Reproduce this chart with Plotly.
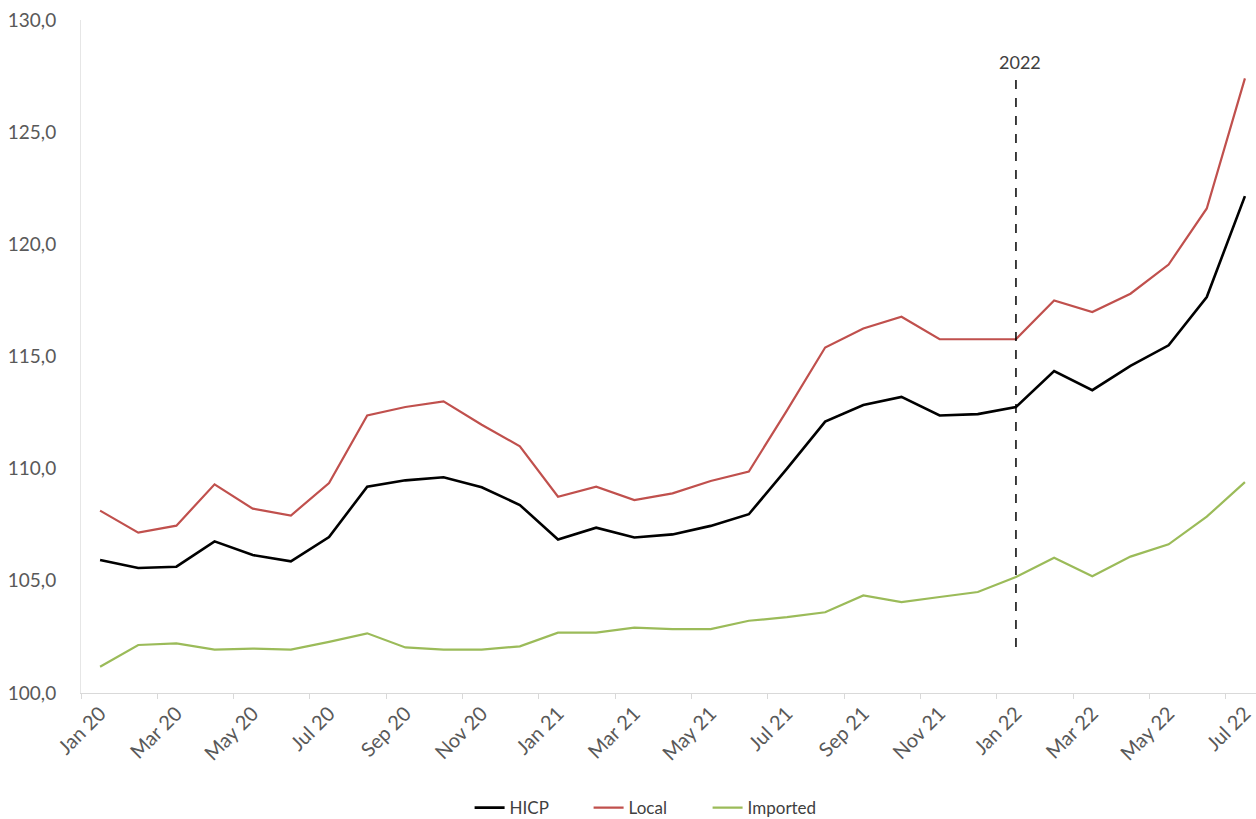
import plotly.graph_objects as go

months = ["Jan 20", "Feb 20", "Mar 20", "Apr 20", "May 20", "Jun 20", "Jul 20", "Aug 20",
          "Sep 20", "Oct 20", "Nov 20", "Dec 20", "Jan 21", "Feb 21", "Mar 21", "Apr 21",
          "May 21", "Jun 21", "Jul 21", "Aug 21", "Sep 21", "Oct 21", "Nov 21", "Dec 21",
          "Jan 22", "Feb 22", "Mar 22", "Apr 22", "May 22", "Jun 22", "Jul 22"]

hicp = [105.93, 105.57, 105.63, 106.76, 106.15, 105.87, 106.95, 109.2,
        109.48, 109.62, 109.17, 108.38, 106.84, 107.37, 106.93, 107.07,
        107.45, 107.97, 110.0, 112.1, 112.84, 113.2, 112.37, 112.43,
        112.75, 114.35, 113.5, 114.58, 115.5, 117.65, 122.15]

local = [108.13, 107.15, 107.46, 109.3, 108.22, 107.91, 109.36, 112.37,
         112.75, 113.0, 111.96, 111.0, 108.75, 109.2, 108.6, 108.9,
         109.45, 109.87, 112.6, 115.4, 116.25, 116.77, 115.77, 115.77,
         115.77, 117.5, 116.98, 117.8, 119.1, 121.6, 127.4]

imported = [101.17, 102.14, 102.21, 101.93, 101.98, 101.93, 102.28, 102.66,
            102.03, 101.93, 101.93, 102.08, 102.69, 102.69, 102.91, 102.85,
            102.85, 103.22, 103.38, 103.6, 104.35, 104.05, 104.28, 104.5,
            105.17, 106.03, 105.2, 106.08, 106.63, 107.86, 109.4]

marker_month = "Jan 22"
marker_label = "2022"
marker_y = [102.05, 127.5]
marker_label_y = 128.15

fig = go.Figure()
fig.add_trace(go.Scatter(x=months, y=hicp, name="HICP", mode="lines",
                         line=dict(color="#000000", width=2.6)))
fig.add_trace(go.Scatter(x=months, y=local, name="Local", mode="lines",
                         line=dict(color="#C0504D", width=2.2)))
fig.add_trace(go.Scatter(x=months, y=imported, name="Imported", mode="lines",
                         line=dict(color="#9BBB59", width=2.2)))
fig.add_trace(go.Scatter(x=[marker_month, marker_month], y=marker_y, mode="lines",
                         showlegend=False, hoverinfo="skip",
                         line=dict(color="#000000", width=1.5, dash="dash")))

fig.add_annotation(x=marker_month, y=marker_label_y, text=marker_label, showarrow=False,
                   xanchor="center", yanchor="middle", xshift=4,
                   font=dict(size=18, color="#404040", family="Lato"))

fig.update_layout(
    width=1256, height=819,
    margin=dict(l=81, r=0, t=20, b=126),
    paper_bgcolor="white", plot_bgcolor="white",
    separators=",.",
    font=dict(family="Lato", color="#595959"),
    showlegend=True,
    legend=dict(orientation="h", xref="container", yref="container",
                x=0.516, xanchor="center", y=0.0134, yanchor="middle",
                font=dict(size=17, color="#404040"), traceorder="normal",
                entrywidth=74, entrywidthmode="pixels"),
)

fig.update_xaxes(
    type="category", categoryorder="array", categoryarray=months,
    range=[-0.5, 30.29], automargin=False,
    dtick=2, tickson="boundaries", ticks="outside", ticklen=5, tickcolor="#D9D9D9",
    tickangle=-45, tickfont=dict(size=20, color="#595959"),
    showline=True, linecolor="#D9D9D9", linewidth=1,
    showgrid=False, zeroline=False,
)
fig.update_yaxes(
    range=[100, 130], dtick=5, tickformat=".1f", automargin=False,
    tickfont=dict(size=19, color="#595959"),
    showline=True, linecolor="#E6E6E6", linewidth=1,
    showgrid=False, zeroline=False, ticks="",
    ticklabelstandoff=20,
)

fig.write_html("out.html")
